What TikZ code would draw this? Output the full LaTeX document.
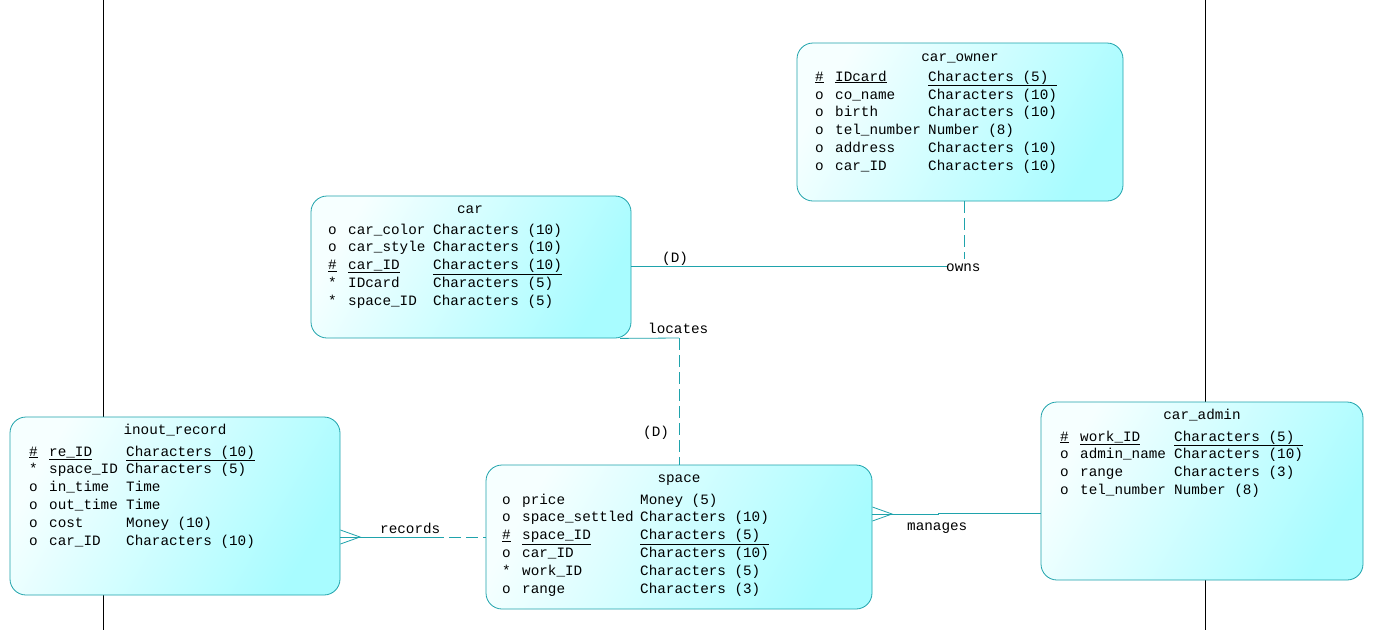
\documentclass[tikz,border=0pt]{standalone}
\usepackage{fontspec}
\usetikzlibrary{calc}
\newfontfamily\erf{Liberation Mono}
\definecolor{edge}{HTML}{1FA3AC}
\definecolor{fillA}{HTML}{F6FFFF}
\definecolor{fillB}{HTML}{A8FCFF}
\begin{document}
\begin{tikzpicture}[x=1pt,y=-1pt,
  entity/.style={draw=edge, line width=0.8pt, rounded corners=16pt, inner sep=0pt,
     left color=fillA, right color=fillB, shading angle=60},
  txt/.style={anchor=base west, inner sep=0pt, font=\erf\fontsize{14.3}{17}\selectfont},
  ttl/.style={anchor=base, inner sep=0pt, font=\erf\fontsize{14.3}{17}\selectfont},
  rel/.style={draw=edge, line width=0.8pt},
  reld/.style={rel, dash pattern=on 12pt off 5pt},
  lbl/.style={anchor=base west, inner sep=0pt, font=\erf\fontsize{14.3}{17}\selectfont}]
\useasboundingbox (0,0) rectangle (1386,630);
\fill[white] (0,0) rectangle (1386,630);
\draw[black, line width=0.8pt] (103,0) -- (103,630);
\draw[black, line width=0.8pt] (1205,0) -- (1205,630);

% entities
\node[entity, minimum width=326pt, minimum height=158pt] (owner) at (960,122) {};
\node[entity, minimum width=320pt, minimum height=142pt] (car) at (471,267) {};
\node[entity, minimum width=330pt, minimum height=178pt] (inout) at (175,506) {};
\node[entity, minimum width=386pt, minimum height=144pt] (space) at (679,537) {};
\node[entity, minimum width=322pt, minimum height=178pt] (admin) at (1202,491) {};

% car_owner
\node[ttl] (ownerT) at (960,61) {car\_owner};
\node[txt] (o1a) at (815,81) {\underline{\#}};
\node[txt] (o1b) at (835,81) {\underline{IDcard}};
\node[txt] (o1c) at (928,81) {\underline{Characters (5) }};
\node[txt] (o2a) at (815,99) {o};
\node[txt] (o2b) at (835,99) {co\_name};
\node[txt] (o2c) at (928,99) {Characters (10)};
\node[txt] (o3a) at (815,116.8) {o};
\node[txt] (o3b) at (835,116.8) {birth};
\node[txt] (o3c) at (928,116.8) {Characters (10)};
\node[txt] (o4a) at (815,134.6) {o};
\node[txt] (o4b) at (835,134.6) {tel\_number};
\node[txt] (o4c) at (928,134.6) {Number (8)};
\node[txt] (o5a) at (815,152.4) {o};
\node[txt] (o5b) at (835,152.4) {address};
\node[txt] (o5c) at (928,152.4) {Characters (10)};
\node[txt] (o6a) at (815,170.2) {o};
\node[txt] (o6b) at (835,170.2) {car\_ID};
\node[txt] (o6c) at (928,170.2) {Characters (10)};

% car
\node[ttl] (carT) at (470,213) {car};
\node[txt] (c1a) at (328,234) {o};
\node[txt] (c1b) at (348,234) {car\_color};
\node[txt] (c1c) at (433,234) {Characters (10)};
\node[txt] (c2a) at (328,251.8) {o};
\node[txt] (c2b) at (348,251.8) {car\_style};
\node[txt] (c2c) at (433,251.8) {Characters (10)};
\node[txt] (c3a) at (328,269.6) {\underline{\#}};
\node[txt] (c3b) at (348,269.6) {\underline{car\_ID}};
\node[txt] (c3c) at (433,269.6) {\underline{Characters (10)}};
\node[txt] (c4a) at (328,287.4) {*};
\node[txt] (c4b) at (348,287.4) {IDcard};
\node[txt] (c4c) at (433,287.4) {Characters (5)};
\node[txt] (c5a) at (328,305.2) {*};
\node[txt] (c5b) at (348,305.2) {space\_ID};
\node[txt] (c5c) at (433,305.2) {Characters (5)};

% inout_record
\node[ttl] (inT) at (175,434) {inout\_record};
\node[txt] (i1a) at (29,456) {\underline{\#}};
\node[txt] (i1b) at (49,456) {\underline{re\_ID}};
\node[txt] (i1c) at (126,456) {\underline{Characters (10)}};
\node[txt] (i2a) at (29,473.8) {*};
\node[txt] (i2b) at (49,473.8) {space\_ID};
\node[txt] (i2c) at (126,473.8) {Characters (5)};
\node[txt] (i3a) at (29,491.6) {o};
\node[txt] (i3b) at (49,491.6) {in\_time};
\node[txt] (i3c) at (126,491.6) {Time};
\node[txt] (i4a) at (29,509.4) {o};
\node[txt] (i4b) at (49,509.4) {out\_time};
\node[txt] (i4c) at (126,509.4) {Time};
\node[txt] (i5a) at (29,527.2) {o};
\node[txt] (i5b) at (49,527.2) {cost};
\node[txt] (i5c) at (126,527.2) {Money (10)};
\node[txt] (i6a) at (29,545) {o};
\node[txt] (i6b) at (49,545) {car\_ID};
\node[txt] (i6c) at (126,545) {Characters (10)};

% space
\node[ttl] (spT) at (679,482) {space};
\node[txt] (s1a) at (502,504) {o};
\node[txt] (s1b) at (522,504) {price};
\node[txt] (s1c) at (640,504) {Money (5)};
\node[txt] (s2a) at (502,521.8) {o};
\node[txt] (s2b) at (522,521.8) {space\_settled};
\node[txt] (s2c) at (640,521.8) {Characters (10)};
\node[txt] (s3a) at (502,539.6) {\underline{\#}};
\node[txt] (s3b) at (522,539.6) {\underline{space\_ID}};
\node[txt] (s3c) at (640,539.6) {\underline{Characters (5) }};
\node[txt] (s4a) at (502,557.4) {o};
\node[txt] (s4b) at (522,557.4) {car\_ID};
\node[txt] (s4c) at (640,557.4) {Characters (10)};
\node[txt] (s5a) at (502,575.2) {*};
\node[txt] (s5b) at (522,575.2) {work\_ID};
\node[txt] (s5c) at (640,575.2) {Characters (5)};
\node[txt] (s6a) at (502,593) {o};
\node[txt] (s6b) at (522,593) {range};
\node[txt] (s6c) at (640,593) {Characters (3)};

% car_admin
\node[ttl] (adT) at (1202,419) {car\_admin};
\node[txt] (a1a) at (1060,441) {\underline{\#}};
\node[txt] (a1b) at (1080,441) {\underline{work\_ID}};
\node[txt] (a1c) at (1174,441) {\underline{Characters (5) }};
\node[txt] (a2a) at (1060,458.8) {o};
\node[txt] (a2b) at (1080,458.8) {admin\_name};
\node[txt] (a2c) at (1174,458.8) {Characters (10)};
\node[txt] (a3a) at (1060,476.6) {o};
\node[txt] (a3b) at (1080,476.6) {range};
\node[txt] (a3c) at (1174,476.6) {Characters (3)};
\node[txt] (a4a) at (1060,494.4) {o};
\node[txt] (a4b) at (1080,494.4) {tel\_number};
\node[txt] (a4c) at (1174,494.4) {Number (8)};

% owns
\coordinate (ownsM) at (947,266);
\coordinate (ownsV) at (964,259);
\draw[rel] ($(car.east)+(0,-1)$) -- (ownsM);
\draw[reld] ($(owner.south)+(4,0)$) -- (ownsV);
\node[lbl] (ownsL) at (946,271.5) {owns};
\node[lbl] (ownsD) at (662,262) {(D)};

% locates
\coordinate (locC) at (679,338);
\draw[rel] ($(car.south)+(149,0)$) -- (locC);
\draw[reld] (locC) -- (space.north);
\node[lbl] (locL) at (648,333) {locates};
\node[lbl] (locD) at (643,436) {(D)};

% records
\coordinate (recF) at (360,537);
\coordinate (recM) at (432,537);
\draw[rel] ($(inout.east)+(0,24)$) -- (recF) -- ($(inout.east)+(0,38)$);
\draw[rel] ($(inout.east)+(0,31)$) -- (recM);
\draw[reld] (recM) -- (space.west);
\node[lbl] (recL) at (380,533) {records};

% manages
\coordinate (manF) at (892,514);
\coordinate (manM) at (938,514);
\draw[rel] ($(space.east)+(0,-30)$) -- (manF) -- ($(space.east)+(0,-16)$);
\draw[rel] ($(space.east)+(0,-23)$) -- (manM) -- ++(0,-1) -- ($(admin.west)+(0,22)$);
\node[lbl] (manL) at (907,530) {manages};
\end{tikzpicture}
\end{document}
